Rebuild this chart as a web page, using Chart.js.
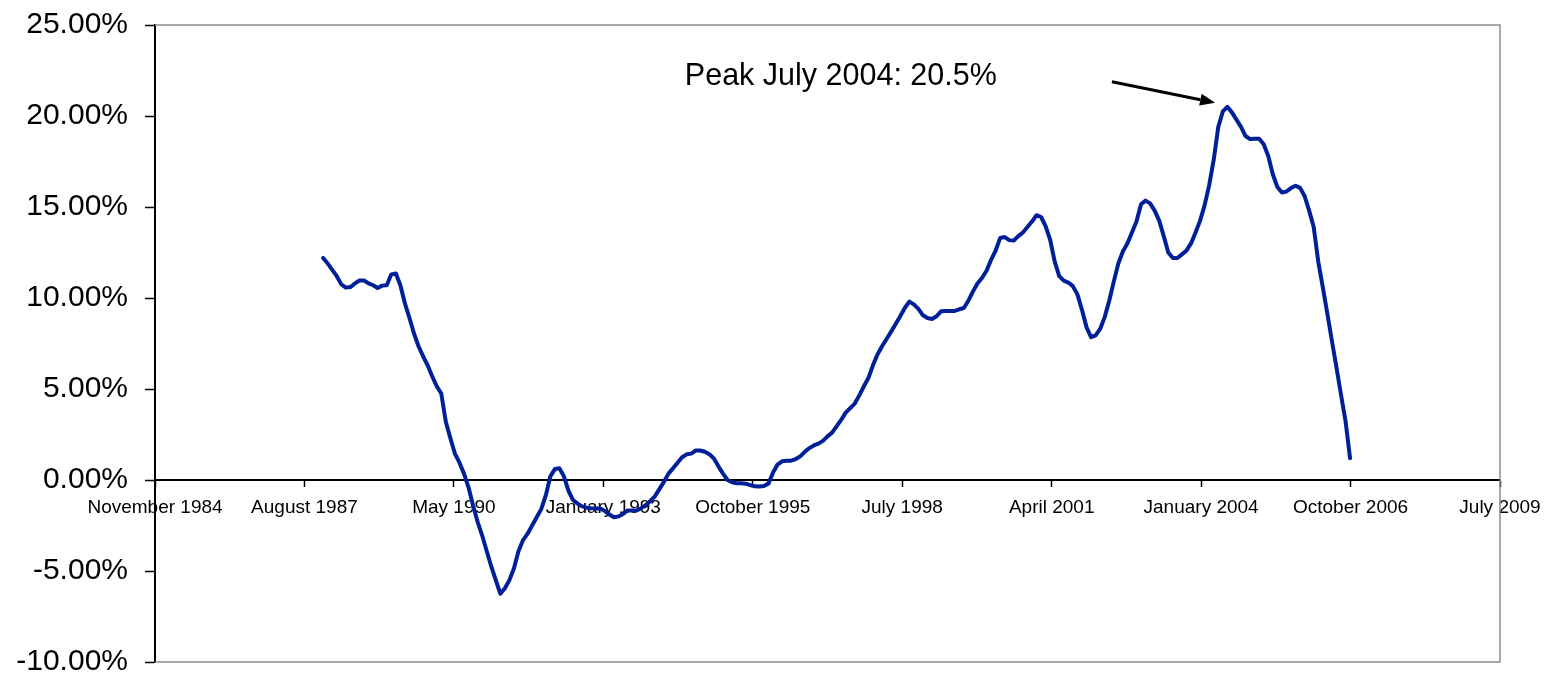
<!DOCTYPE html>
<html>
<head>
<meta charset="utf-8">
<script src="https://cdn.jsdelivr.net/npm/chart.js@4.4.1/dist/chart.umd.min.js"></script>
<style>
  html, body { margin: 0; padding: 0; background: #fff; }
  #wrap { width: 1547px; height: 675px; }
</style>
</head>
<body>
<div id="wrap"><canvas id="chart"></canvas></div>
<script>
// time axis runs in months from November 1984 to July 2009
var axisMonths = 296;
var tickLabels = ["November 1984", "August 1987", "May 1990", "January 1993", "October 1995",
                  "July 1998", "April 2001", "January 2004", "October 2006", "July 2009"];
// monthly series starts December 1987
var seriesStart = 37;
var yoy = [
  12.2, 11.9, 11.55, 11.2, 10.75, 10.57, 10.6, 10.8, 10.96, 10.96, 10.8, 10.7, 10.55,
  10.68, 10.7, 11.3, 11.35, 10.7, 9.7, 8.9, 8.05, 7.35, 6.8, 6.3, 5.7, 5.15, 4.75,
  3.2, 2.3, 1.45, 0.95, 0.35, -0.4, -1.4, -2.3, -3.05, -3.9, -4.75, -5.5, -6.25,
  -5.95, -5.5, -4.85, -3.9, -3.3, -2.95, -2.5, -2.05, -1.6, -0.85, 0.2, 0.6, 0.65,
  0.2, -0.6, -1.1, -1.3, -1.45, -1.52, -1.55, -1.56, -1.56, -1.7, -1.9, -2.05, -2.0,
  -1.87, -1.67, -1.68, -1.68, -1.55, -1.38, -1.15, -0.9, -0.5, -0.1, 0.35, 0.64,
  0.95, 1.25, 1.41, 1.45, 1.62, 1.62, 1.55, 1.42, 1.18, 0.75, 0.35, 0.0, -0.12,
  -0.18, -0.18, -0.2, -0.28, -0.35, -0.36, -0.33, -0.2, 0.4, 0.85, 1.03, 1.06,
  1.06, 1.15, 1.3, 1.55, 1.75, 1.9, 2.0, 2.15, 2.4, 2.6, 2.95, 3.3, 3.7, 3.95,
  4.2, 4.65, 5.15, 5.6, 6.3, 6.9, 7.35, 7.75, 8.15, 8.57, 9.0, 9.45, 9.8, 9.65,
  9.4, 9.05, 8.9, 8.85, 9.0, 9.27, 9.29, 9.29, 9.29, 9.38, 9.45, 9.85, 10.35,
  10.8, 11.1, 11.5, 12.1, 12.6, 13.3, 13.35, 13.18, 13.16, 13.4, 13.6, 13.9, 14.2,
  14.55, 14.45, 13.95, 13.2, 12.0, 11.2, 10.95, 10.85, 10.65, 10.2, 9.35, 8.4,
  7.85, 7.95, 8.3, 8.95, 9.85, 10.9, 11.9, 12.55, 13.0, 13.6, 14.2, 15.15, 15.35,
  15.2, 14.8, 14.25, 13.4, 12.5, 12.2, 12.2, 12.4, 12.6, 13.0, 13.6, 14.25, 15.1,
  16.2, 17.6, 19.4, 20.25, 20.5, 20.2, 19.8, 19.4, 18.9, 18.73, 18.75, 18.75,
  18.45, 17.8, 16.8, 16.1, 15.8, 15.85, 16.04, 16.17, 16.05, 15.6, 14.8, 13.9,
  12.0, 10.6, 9.15, 7.65, 6.2, 4.7, 3.25, 1.2
];
var peakText = "Peak July 2004: 20.5%";

var font = "'Liberation Sans', Arial, sans-serif";

var frame = {
  id: 'frame',
  beforeDatasetsDraw: function(chart) {
    var a = chart.chartArea, ctx = chart.ctx;
    ctx.save();
    ctx.strokeStyle = '#8c8c8c';
    ctx.lineWidth = 1.5;
    ctx.beginPath();
    ctx.moveTo(a.left, a.top);
    ctx.lineTo(a.right, a.top);
    ctx.lineTo(a.right, a.bottom);
    ctx.lineTo(a.left, a.bottom);
    ctx.stroke();
    ctx.restore();
  }
};

var annotate = {
  id: 'annotate',
  afterDatasetsDraw: function(chart) {
    var ctx = chart.ctx, xs = chart.scales.x, ys = chart.scales.y;
    var peak = Math.max.apply(null, yoy);
    var pm = seriesStart + yoy.indexOf(peak);
    var tx = xs.getPixelForValue(pm - 2.7), ty = ys.getPixelForValue(peak + 0.23);
    var fx = xs.getPixelForValue(pm - 25.4), fy = ys.getPixelForValue(peak + 1.38);
    var ang = Math.atan2(ty - fy, tx - fx);
    var hl = 15, hw = 6;
    var bx = tx - hl * Math.cos(ang), by = ty - hl * Math.sin(ang);
    ctx.save();
    ctx.strokeStyle = '#000';
    ctx.fillStyle = '#000';
    ctx.lineWidth = 3;
    ctx.beginPath();
    ctx.moveTo(fx, fy);
    ctx.lineTo(bx, by);
    ctx.stroke();
    ctx.beginPath();
    ctx.moveTo(tx, ty);
    ctx.lineTo(bx + hw * Math.sin(ang), by - hw * Math.cos(ang));
    ctx.lineTo(bx - hw * Math.sin(ang), by + hw * Math.cos(ang));
    ctx.closePath();
    ctx.fill();
    ctx.font = '30.5px ' + font;
    ctx.textAlign = 'left';
    ctx.textBaseline = 'middle';
    ctx.fillText(peakText, xs.getPixelForValue(pm - 119.4), ys.getPixelForValue(peak + 1.65));
    ctx.restore();
  }
};

function drawChart() {
  var ctx = document.getElementById('chart');
  var options = {};
  var data = {};
  options.type = 'line';
  data.datasets = [{
    label: 'YoY',
    data: yoy.map(function(v, i) { return {x: seriesStart + i, y: v}; }),
    borderColor: '#00209a',
    borderWidth: 4,
    borderJoinStyle: 'round',
    borderCapStyle: 'round',
    pointRadius: 0,
    tension: 0,
    fill: false
  }];
  options.data = data;
  options.options = {
    responsive: true,
    maintainAspectRatio: false,
    animation: false,
    layout: { padding: { top: 25, right: 47, bottom: 13, left: 0 } },
    plugins: { legend: { display: false }, tooltip: { enabled: false } },
    scales: {
      x: {
        type: 'linear',
        position: { y: 0 },
        min: 0,
        max: axisMonths,
        afterBuildTicks: function(s) {
          s.ticks = tickLabels.map(function(_, i) { return {value: i * axisMonths / (tickLabels.length - 1)}; });
        },
        afterFit: function(s) { s.paddingLeft = 0; s.paddingRight = 0; },
        ticks: {
          autoSkip: false,
          maxRotation: 0,
          padding: 10,
          color: '#000',
          font: { family: font, size: 19 },
          callback: function(v, i) { return tickLabels[i]; }
        },
        grid: { drawOnChartArea: false, tickLength: 6, color: '#000', tickWidth: 1.5 },
        border: { color: '#000', width: 2 }
      },
      y: {
        min: -10,
        max: 25,
        afterFit: function(s) { s.width = 155; s.paddingTop = 0; s.paddingBottom = 0; },
        ticks: {
          stepSize: 5,
          padding: 17,
          color: '#000',
          font: { family: font, size: 30 },
          callback: function(v) { return v.toFixed(2) + '%'; }
        },
        grid: { drawOnChartArea: false, tickLength: 10, color: '#000', tickWidth: 1.5 },
        border: { color: '#000', width: 2 }
      }
    }
  };
  options.plugins = [frame, annotate];
  new Chart(ctx, options);
}
drawChart();
</script>
</body>
</html>
